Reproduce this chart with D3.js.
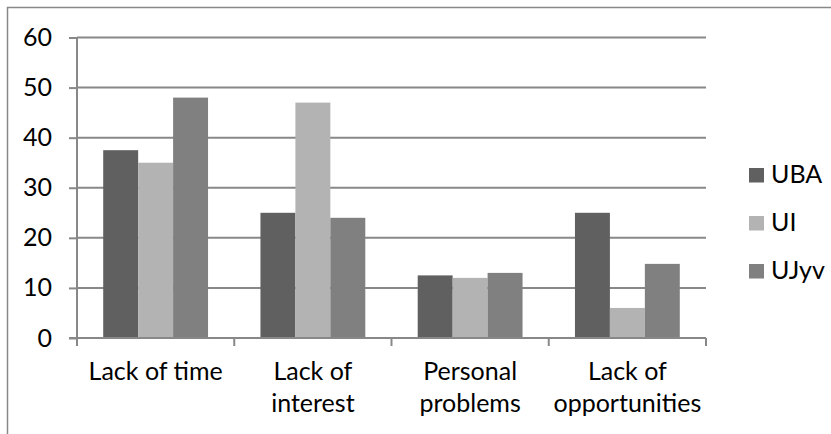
<!DOCTYPE html>
<html>
<head>
<meta charset="utf-8">
<script src="https://cdn.jsdelivr.net/npm/d3@7"></script>
<style>
  html, body { margin: 0; padding: 0; background: #fff; }
  svg { display: block; font-family: Lato, "Open Sans", sans-serif; }
</style>
</head>
<body>
<svg id="chart" width="831" height="434"></svg>
<script>
// Reasons for not taking part, by university (%)
const categories = [["Lack of time"], ["Lack of", "interest"], ["Personal", "problems"], ["Lack of", "opportunities"]];
const seriesNames = ["UBA", "UI", "UJyv"];
const valuesUBA = [37.5, 25, 12.5, 25];
const valuesUI = [35, 47, 12, 6];
const valuesUJyv = [48, 24, 13, 14.8];
const yTicks = [0, 10, 20, 30, 40, 50, 60];

const seriesValues = [valuesUBA, valuesUI, valuesUJyv];
const colors = ["#606060", "#b3b3b3", "#808080"];
const gridColor = "#888888";
const fontSize = 25;

const svg = d3.select("#chart");

// outer frame (only the top and left edges fall inside the view)
svg.append("rect")
  .attr("x", 7.5).attr("y", 7.5)
  .attr("width", 900).attr("height", 600)
  .attr("fill", "none").attr("stroke", gridColor).attr("stroke-width", 1.5);

const plot = { left: 77, right: 706, top: 37.5, bottom: 338 };

const x = d3.scaleBand()
  .domain(d3.range(categories.length))
  .range([plot.left, plot.right])
  .paddingInner(0).paddingOuter(0);

const y = d3.scaleLinear().domain([0, 60]).range([plot.bottom, plot.top]);

const groupWidth = x.bandwidth() * 3 / 4.5;
const xs = d3.scaleBand()
  .domain(d3.range(seriesNames.length))
  .range([0, groupWidth]);

// horizontal gridlines with short ticks to the left
const yAxis = d3.axisLeft(y).tickValues(yTicks).tickSize(8).tickPadding(17).tickFormat(d3.format("d"));
const yg = svg.append("g").attr("transform", `translate(${plot.left},0)`).call(yAxis);
yg.select(".domain").remove();
yg.selectAll(".tick line").attr("stroke", gridColor).attr("stroke-width", 2);
yg.selectAll(".tick text")
  .attr("fill", "#000").style("font-size", fontSize + "px").style("font-family", "Lato, 'Open Sans', sans-serif");

svg.append("g")
  .selectAll("line")
  .data(yTicks.filter(d => d > 0))
  .join("line")
  .attr("x1", plot.left).attr("x2", plot.right)
  .attr("y1", d => y(d)).attr("y2", d => y(d))
  .attr("stroke", gridColor).attr("stroke-width", 2);

// bars
const groups = svg.append("g")
  .selectAll("g")
  .data(categories.map((c, i) => i))
  .join("g")
  .attr("transform", i => `translate(${x(i) + (x.bandwidth() - groupWidth) / 2},0)`);

groups.selectAll("rect")
  .data(i => seriesValues.map((vals, s) => ({ s, v: vals[i] })))
  .join("rect")
  .attr("x", d => xs(d.s))
  .attr("width", xs.bandwidth())
  .attr("y", d => y(d.v))
  .attr("height", d => y(0) - y(d.v))
  .attr("fill", d => colors[d.s]);

// vertical axis line
svg.append("line")
  .attr("x1", plot.left).attr("x2", plot.left)
  .attr("y1", plot.top).attr("y2", plot.bottom + 8)
  .attr("stroke", gridColor).attr("stroke-width", 2);

// category axis
const xAxisLine = svg.append("g");
xAxisLine.append("line")
  .attr("x1", plot.left - 8).attr("x2", plot.right)
  .attr("y1", plot.bottom).attr("y2", plot.bottom)
  .attr("stroke", gridColor).attr("stroke-width", 2);
xAxisLine.selectAll("line.tick")
  .data(d3.range(categories.length + 1))
  .join("line")
  .attr("class", "tick")
  .attr("x1", i => plot.left + i * x.step()).attr("x2", i => plot.left + i * x.step())
  .attr("y1", plot.bottom).attr("y2", plot.bottom + 8)
  .attr("stroke", gridColor).attr("stroke-width", 2);

const labels = svg.append("g")
  .selectAll("text")
  .data(categories)
  .join("text")
  .attr("text-anchor", "middle")
  .attr("x", (c, i) => x(i) + x.bandwidth() / 2)
  .attr("y", 380)
  .style("font-size", fontSize + "px")
  .attr("fill", "#000");
labels.selectAll("tspan")
  .data(c => c)
  .join("tspan")
  .attr("x", function () { return this.parentNode.getAttribute("x"); })
  .attr("dy", (d, j) => j === 0 ? 0 : 31.5)
  .text(d => d);

// legend
const legend = svg.append("g")
  .selectAll("g")
  .data(seriesNames)
  .join("g")
  .attr("transform", (d, i) => `translate(749,${168 + i * 48})`);
legend.append("rect")
  .attr("width", 15).attr("height", 14.5)
  .attr("fill", (d, i) => colors[i]);
legend.append("text")
  .attr("x", 22).attr("y", 14.5)
  .style("font-size", fontSize + "px")
  .attr("fill", "#000")
  .text(d => d);
</script>
</body>
</html>
